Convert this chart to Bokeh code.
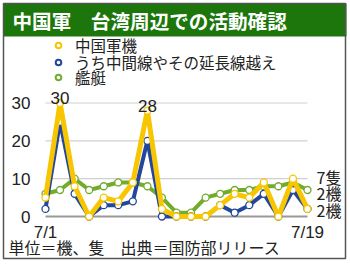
from bokeh.plotting import figure
from bokeh.models import Range1d, Legend, LegendItem, Label, BoxAnnotation, ColumnDataSource
from bokeh.core.properties import value
from bokeh.embed import file_html
from bokeh.resources import INLINE

# ---- data ----
days = list(range(1, 20))
x_tick_days = [1, 19]
x_tick_labels = ["7/1", "7/19"]
aircraft = [5, 30, 8, 0, 5, 4, 9, 28, 2, 0, 0, 0, 3, 6, 5, 9, 0, 10, 2]
median_cross = [2, 25, 6, 0, 3, 3, 4, 20, 0, 0, 0, 0, 3, 1, 3, 6, 0, 7, 2]
ships = [6, 7, 10, 7, 8, 9, 9, 8, 5, 1, 1, 5, 6, 7, 7, 8, 8, 9, 7]
y_ticks = [0, 10, 20, 30]
series_names = ["中国軍機", "うち中間線やその延長線越え", "艦艇"]
unit_names = ["機", "機", "隻"]
title_text = "中国軍　台湾周辺での活動確認"
note_text = "単位＝機、隻　出典＝国防部リリース"

YELLOW = "#F7C600"
BLUE = "#23479A"
GREEN = "#72AC2F"
CJK = "Noto Sans CJK JP"
LAT = "Liberation Sans"
W, H = 350, 264

p = figure(width=W, height=H,
           x_range=Range1d(-2.0916, 21.954), y_range=Range1d(-12.688, 57.098),
           output_backend="svg", toolbar_location=None,
           x_axis_type=None, y_axis_type=None, min_border=0)
p.outline_line_color = None
p.grid.visible = False
p.background_fill_color = "white"
p.border_fill_color = "white"

# title bar and outer border (screen units, from bottom-left)
p.add_layout(BoxAnnotation(left=3, right=346, top=H - 3, bottom=H - 36,
                           left_units="screen", right_units="screen",
                           top_units="screen", bottom_units="screen",
                           fill_color="#1C760C", fill_alpha=1, line_color=None))
p.add_layout(BoxAnnotation(left=3, right=345, top=H - 3, bottom=H - 258,
                           left_units="screen", right_units="screen",
                           top_units="screen", bottom_units="screen",
                           fill_alpha=0, line_color="#555555", line_width=1.5, line_alpha=1))
p.add_layout(Label(x=12, y=H - 19.5, x_units="screen", y_units="screen",
                   text=title_text, text_color="white", text_font=CJK,
                   text_font_style="bold", text_font_size="19.6px", text_baseline="middle"))
p.add_layout(Label(x=8, y=H - 246, x_units="screen", y_units="screen",
                   text=note_text, text_color="#222222", text_font=CJK,
                   text_font_size="16px", text_baseline="middle"))

# grid lines over the data span
for t in y_ticks:
    p.segment(x0=days[0], x1=days[-1], y0=t, y1=t,
              line_color="#999999" if t == 0 else "#d0d0d0",
              line_width=2 if t == 0 else 1.2)

# tick labels
ytick_src = ColumnDataSource(dict(x=[days[0]] * len(y_ticks), y=y_ticks, t=[str(v) for v in y_ticks]))
p.text("x", "y", text="t", source=ytick_src, text_align="right", text_baseline="middle",
       x_offset=-15, text_font=value(LAT), text_font_size="17px", text_color="#222222")
xtick_src = ColumnDataSource(dict(x=x_tick_days, y=[y_ticks[0]] * len(x_tick_days), t=x_tick_labels))
p.text("x", "y", text="t", source=xtick_src, text_align="center", text_baseline="top",
       y_offset=6, text_font=value(LAT), text_font_size="17px", text_color="#222222")

src = ColumnDataSource(dict(day=days, aircraft=aircraft, median=median_cross, ships=ships))
specs = [("ships", GREEN, 4), ("median", BLUE, 4), ("aircraft", YELLOW, 5)]
legend_glyph = {}
for col, color, lw in specs:
    p.line("day", col, source=src, line_color=color, line_width=lw, line_join="round")
    p.scatter("day", col, source=src, size=7, fill_color="white",
              line_color=color, line_width=1.3)
    # marker used only for the legend key (its single point is NaN, so nothing is plotted)
    legend_glyph[col] = p.scatter(x=[days[0]], y=[float("nan")], size=9, fill_color="white",
                                  line_color=color, line_width=2)

# peak labels
peak_idx = [i for i, v in enumerate(aircraft) if v >= 20]
peak_src = ColumnDataSource(dict(x=[days[i] for i in peak_idx],
                                 y=[aircraft[i] for i in peak_idx],
                                 t=[str(aircraft[i]) for i in peak_idx]))
p.text("x", "y", text="t", source=peak_src, text_align="center", text_baseline="alphabetic",
       y_offset=-5, text_font=value(LAT), text_font_size="17px", text_color="#222222")

# end labels
ends = [(ships, unit_names[2], 13.5), (aircraft, unit_names[0], 16), (median_cross, unit_names[1], -1)]
for series, unit, off in ends:
    p.add_layout(Label(x=days[-1], y=series[-1], text=f"{series[-1]}{unit}",
                       x_offset=9, y_offset=off, text_baseline="middle",
                       text_font=CJK, text_font_size="16px", text_color="#222222"))

# legend: one row per Legend so the row spacing can be as tight as in the original
row_centers = [48, 64.5, 80]
for name, col, c in zip(series_names, ["aircraft", "median", "ships"], row_centers):
    lg = Legend(items=[LegendItem(label=name, renderers=[legend_glyph[col]])],
                location=(51, H - (c + 8)), glyph_height=16, glyph_width=14, label_height=16,
                spacing=0, padding=0, margin=0, label_standoff=10,
                label_text_font=CJK, label_text_font_size="15.5px",
                label_text_line_height=1.0,
                label_text_color="#222222", border_line_color=None,
                background_fill_alpha=0)
    p.add_layout(lg)

open("out.html", "w").write(file_html(p, INLINE))
